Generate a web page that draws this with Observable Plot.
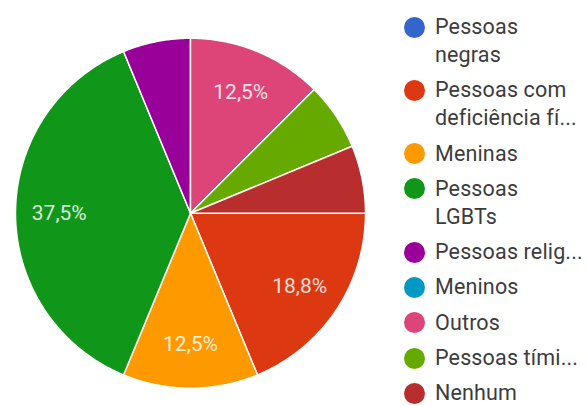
<!DOCTYPE html>
<html>
<head>
<meta charset="utf-8">
<script src="https://cdn.jsdelivr.net/npm/d3@7"></script>
<script src="https://cdn.jsdelivr.net/npm/@observablehq/plot@0.6"></script>
<style>
  html, body { margin: 0; padding: 0; background: #fff; }
  #wrap { position: relative; width: 586px; height: 406px; overflow: hidden; font-family: Roboto, "Noto Sans", sans-serif; }
  #chart { position: absolute; left: 0; top: 0; }
  #legend { position: absolute; left: 404px; top: 13px; }
  .item { display: flex; align-items: flex-start; margin-bottom: 7.3px; }
  .sw { width: 21px; height: 21px; border-radius: 50%; margin-top: 3.5px; margin-right: 10px; flex: none; }
  .txt { font-size: 21.5px; letter-spacing: 0.15px; line-height: 28px; color: #3c3c3c; white-space: nowrap; }
</style>
</head>
<body>
<div id="wrap">
  <div id="chart"></div>
  <div id="legend"></div>
</div>
<script>
const categories = ["Pessoas negras", "Pessoas com deficiência física", "Meninas", "Pessoas LGBTs", "Pessoas religiosas", "Meninos", "Outros", "Pessoas tímidas", "Nenhum"];
const legendLines = [["Pessoas", "negras"], ["Pessoas com", "deficiência fí..."], ["Meninas"], ["Pessoas", "LGBTs"], ["Pessoas relig..."], ["Meninos"], ["Outros"], ["Pessoas tími..."], ["Nenhum"]];
const counts = [0, 3, 2, 6, 1, 0, 2, 1, 1];
const colors = ["#3366CC", "#DC3912", "#FF9900", "#109618", "#990099", "#0099C6", "#DD4477", "#66AA00", "#B82E2E"];

const total = d3.sum(counts);
const data = categories.map((c, i) => ({category: c, value: counts[i], color: colors[i]}));

const pie = d3.pie().value(d => d.value).sort(null)
  .startAngle(Math.PI / 2).endAngle(Math.PI / 2 + 2 * Math.PI);
const arcs = pie(data).filter(a => a.data.value > 0);

function pt(a, r) { return [r * Math.sin(a), -r * Math.cos(a)]; }

const features = arcs.map(a => {
  const ring = [[0, 0]];
  const n = Math.max(2, Math.ceil((a.endAngle - a.startAngle) / (Math.PI / 360)));
  for (let k = 0; k <= n; k++) ring.push(pt(a.startAngle + (a.endAngle - a.startAngle) * k / n, 1));
  ring.push([0, 0]);
  return {type: "Feature", properties: {category: a.data.category}, geometry: {type: "Polygon", coordinates: [ring]}};
});

const labels = arcs.filter(a => a.data.value / total >= 0.1).map(a => {
  const m = (a.startAngle + a.endAngle) / 2;
  const [x, y] = pt(m, 0.75);
  return {x, y, text: (a.data.value / total * 100).toFixed(1).replace(".", ",") + "%"};
});

const chart = Plot.plot({
  width: 380,
  height: 406,
  marginTop: 37.5,
  marginBottom: 18,
  marginLeft: 15,
  marginRight: 15,
  projection: {type: "identity", domain: {type: "MultiPoint", coordinates: [[-1, -1], [1, 1]]}},
  color: {domain: categories, range: colors},
  style: {fontFamily: "Roboto, sans-serif", background: "transparent"},
  marks: [
    Plot.geo(features, {fill: d => d.properties.category, stroke: "white", strokeWidth: 1.5, strokeLinejoin: "round"}),
    Plot.text(labels, {x: "x", y: "y", text: "text", fill: "white", fillOpacity: 0.85, fontSize: 21})
  ]
});
document.getElementById("chart").appendChild(chart);

const legend = document.getElementById("legend");
legendLines.forEach((lines, i) => {
  const item = document.createElement("div");
  item.className = "item";
  const sw = document.createElement("div");
  sw.className = "sw";
  sw.style.background = colors[i];
  const txt = document.createElement("div");
  txt.className = "txt";
  lines.forEach(l => { const s = document.createElement("div"); s.textContent = l; txt.appendChild(s); });
  item.appendChild(sw);
  item.appendChild(txt);
  legend.appendChild(item);
});
</script>
</body>
</html>
